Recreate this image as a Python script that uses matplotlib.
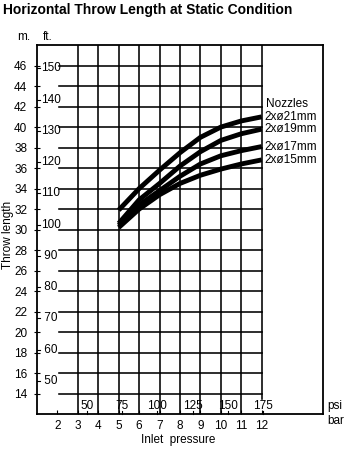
import numpy as np
import matplotlib
matplotlib.use("Agg")
import matplotlib.pyplot as plt

plt.rcParams['font.family'] = ['Liberation Sans', 'DejaVu Sans']

# throw length (m) against inlet pressure (bar)
pressure_bar = [5, 6, 7, 8, 9, 10, 11, 12]
throw_21 = [31.9, 34.0, 35.8, 37.5, 39.0, 40.0, 40.6, 41.0]
throw_19 = [30.6, 32.9, 34.5, 36.2, 37.6, 38.7, 39.35, 39.8]
throw_17 = [30.4, 32.4, 33.8, 35.2, 36.4, 37.2, 37.7, 38.1]
throw_15 = [30.2, 32.0, 33.4, 34.5, 35.3, 35.9, 36.4, 36.8]
nozzles = ['2xø21mm', '2xø19mm', '2xø17mm', '2xø15mm']

m_ticks = list(range(14, 47, 2))
ft_ticks = [50, 60, 70, 80, 90, 100, 110, 120, 130, 140, 150]
bar_ticks = list(range(2, 13))
psi_ticks = [50, 75, 100, 125, 150, 175]

FT_PER_M = 3.2808
BAR_PER_PSI = 0.0689476

fig = plt.figure(figsize=(3.5, 4.51), dpi=100)
ax = fig.add_axes([0.1057, 0.082, 0.8172, 0.818])
ax.set_xlim(1, 15)
ax.set_ylim(12, 48)

for s in ax.spines.values():
    s.set_linewidth(1.3)

# grid
for b in range(3, 12):
    ax.plot([b, b], [12, 48], color='black', lw=1.15, zorder=1)
ax.plot([12, 12], [13.5, 48], color='black', lw=1.15, zorder=1)
for m in m_ticks:
    ax.plot([2.1, 12], [m, m], color='black', lw=1.15, zorder=1)

# curves
for y in [throw_21, throw_19, throw_17, throw_15]:
    ax.plot(pressure_bar, y, color='black', lw=3.5, solid_capstyle='butt',
            solid_joinstyle='round', zorder=3)

# metre ticks
ax.set_yticks(m_ticks)
ax.tick_params(axis='y', direction='inout', length=4, width=0.8, pad=5, labelsize=8.5)

# bar ticks
ax.set_xticks(bar_ticks)
ax.tick_params(axis='x', direction='in', length=3, width=0.8, pad=4, labelsize=8.5)

# feet scale inside the frame
ytr = ax.get_yaxis_transform()
for ft in ft_ticks:
    m = ft / FT_PER_M
    ax.plot([0, 0.012], [m, m], color='black', lw=0.8, transform=ytr, clip_on=False)
    label = str(ft) if ft >= 100 else ' ' + str(ft)
    ax.text(0.015, m, label, transform=ytr, ha='left', va='center', fontsize=8.5)

# psi scale inside the frame
xtr = ax.get_xaxis_transform()
for p in psi_ticks:
    b = p * BAR_PER_PSI
    ax.plot([b, b], [0, 0.008], color='black', lw=0.8, transform=xtr, clip_on=False)
    ax.text(b, 0.023, str(p), transform=xtr, ha='center', va='center', fontsize=8.5)

ax.text(1.015, 0.023, 'psi', transform=ax.transAxes, ha='left', va='center', fontsize=8.5)
ax.text(1.015, -0.02, 'bar', transform=ax.transAxes, ha='left', va='center', fontsize=8.5)

# nozzle legend
ax.text(12.2, 42.3, 'Nozzles', ha='left', va='center', fontsize=8.5)
for name, y in zip(nozzles, [throw_21, throw_19, throw_17, throw_15]):
    ax.text(12.15, y[-1], name, ha='left', va='center', fontsize=8.5)

fig.text(0.008, 0.978, 'Horizontal Throw Length at Static Condition',
         ha='left', va='center', fontsize=10, fontweight='bold')
fig.text(0.05, 0.918, 'm.', ha='left', va='center', fontsize=8.5)
fig.text(0.122, 0.918, 'ft.', ha='left', va='center', fontsize=8.5)
fig.text(0.022, 0.479, 'Throw length', rotation=90, ha='center', va='center', fontsize=8.5)
fig.text(0.51, 0.025, 'Inlet  pressure', ha='center', va='center', fontsize=8.5)

fig.savefig('out.png', dpi=100)
